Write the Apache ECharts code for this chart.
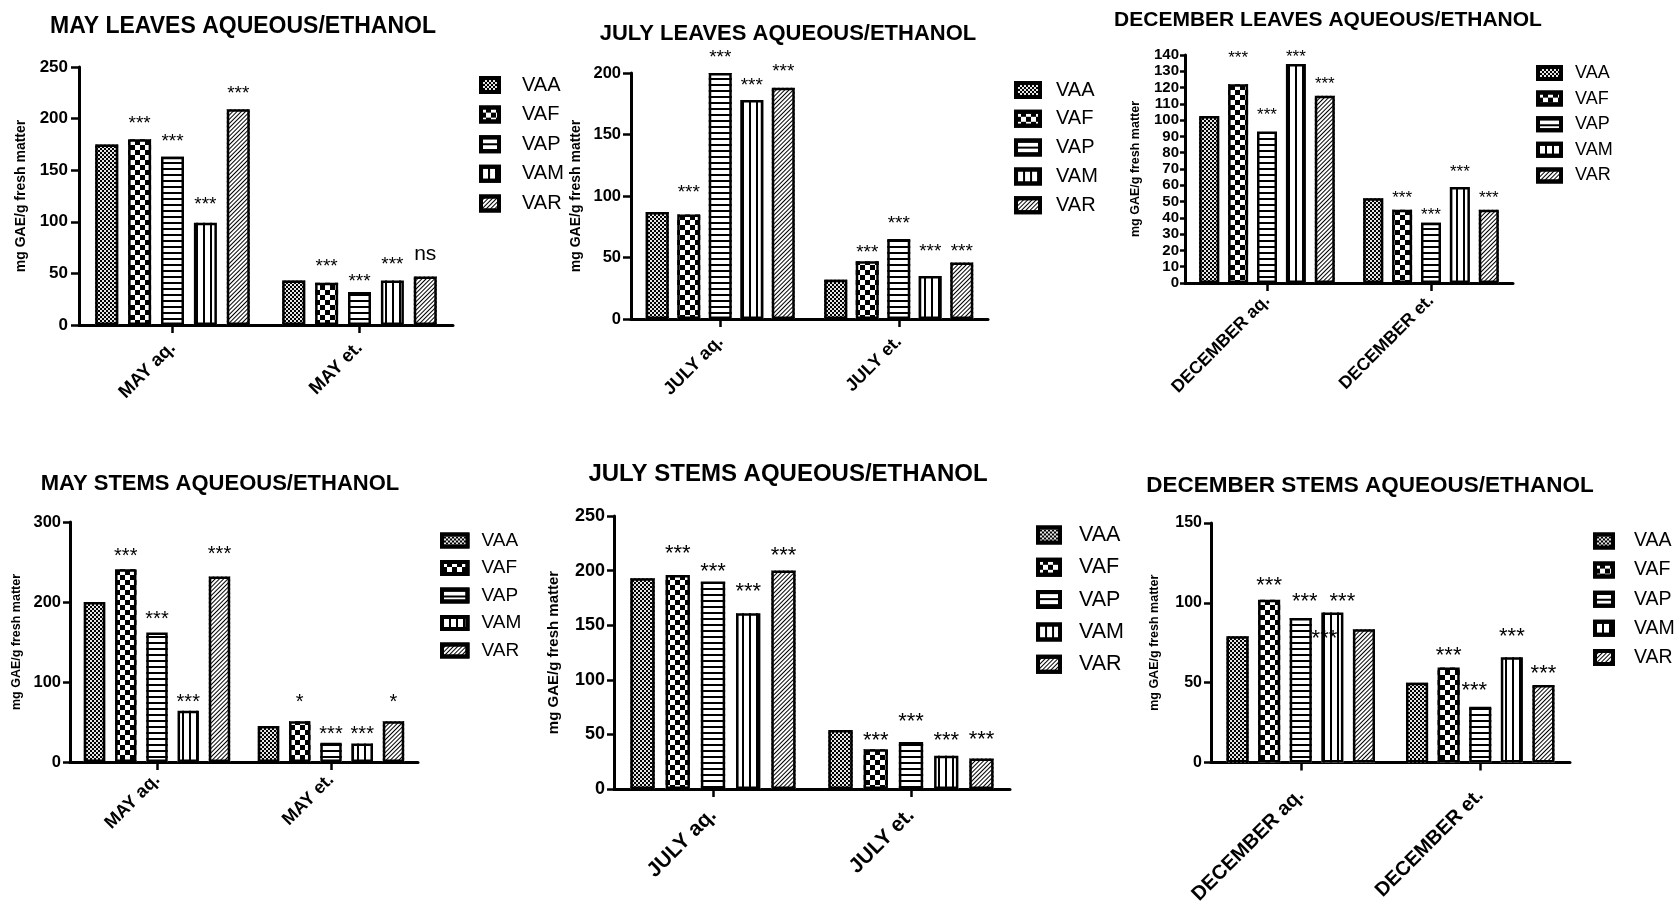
<!DOCTYPE html>
<html><head><meta charset="utf-8">
<script src="https://cdn.jsdelivr.net/npm/echarts@6/dist/echarts.min.js"></script>
<style>html,body{margin:0;padding:0;background:#fff;}#c{width:1675px;height:907px;}</style>
</head><body><div id="c"></div>
<script>
// ---------- DATA ----------
const seriesNames = ['VAA', 'VAF', 'VAP', 'VAM', 'VAR'];
const mayCategories = ['MAY aq.', 'MAY et.'];
const julyCategories = ['JULY aq.', 'JULY et.'];
const decemberCategories = ['DECEMBER aq.', 'DECEMBER et.'];

// values per series (VAA, VAF, VAP, VAM, VAR), each [aq., et.]
const mayLeavesValues = [[175, 43], [180, 41], [163, 32], [99, 43], [209, 47]];
const mayLeavesMarks = [['', ''], ['***', '***'], ['***', '***'], ['***', '***'], ['***', 'ns']];
const mayLeavesTicks = [0, 50, 100, 150, 200, 250];

const julyLeavesValues = [[87, 32], [85, 47], [200, 65], [178, 35], [188, 46]];
const julyLeavesMarks = [['', ''], ['***', '***'], ['***', '***'], ['***', '***'], ['***', '***']];
const julyLeavesTicks = [0, 50, 100, 150, 200];

const decemberLeavesValues = [[102.5, 52], [122, 45], [93, 37], [134.5, 59], [115, 45]];
const decemberLeavesMarks = [['', ''], ['***', '***'], ['***', '***'], ['***', '***'], ['***', '***']];
const decemberLeavesTicks = [0, 10, 20, 30, 40, 50, 60, 70, 80, 90, 100, 110, 120, 130, 140];

const mayStemsValues = [[200, 45], [241, 51], [162, 24], [64, 23], [232, 51]];
const mayStemsMarks = [['', ''], ['***', '*'], ['***', '***'], ['***', '***'], ['***', '*']];
const mayStemsTicks = [0, 100, 200, 300];

const julyStemsValues = [[193, 54], [196, 36.5], [190, 43], [161, 30.5], [200, 28]];
const julyStemsMarks = [['', ''], ['***', '***'], ['***', '***'], ['***', '***'], ['***', '***']];
const julyStemsTicks = [0, 50, 100, 150, 200, 250];

const decemberStemsValues = [[79, 50], [102, 59.5], [90.5, 35], [94, 66], [83.5, 48.5]];
const decemberStemsMarks = [['', ''], ['***', '***'], ['***', '***'], ['***', '***'], ['***', '***']];
const decemberStemsTicks = [0, 50, 100, 150];

const yAxisName = 'mg GAE/g fresh matter';

const panels = [
  { title: 'MAY LEAVES AQUEOUS/ETHANOL', cats: mayCategories, values: mayLeavesValues, marks: mayLeavesMarks, ticks: mayLeavesTicks },
  { title: 'JULY LEAVES AQUEOUS/ETHANOL', cats: julyCategories, values: julyLeavesValues, marks: julyLeavesMarks, ticks: julyLeavesTicks },
  { title: 'DECEMBER LEAVES AQUEOUS/ETHANOL', cats: decemberCategories, values: decemberLeavesValues, marks: decemberLeavesMarks, ticks: decemberLeavesTicks },
  { title: 'MAY STEMS AQUEOUS/ETHANOL', cats: mayCategories, values: mayStemsValues, marks: mayStemsMarks, ticks: mayStemsTicks },
  { title: 'JULY STEMS AQUEOUS/ETHANOL', cats: julyCategories, values: julyStemsValues, marks: julyStemsMarks, ticks: julyStemsTicks },
  { title: 'DECEMBER STEMS AQUEOUS/ETHANOL', cats: decemberCategories, values: decemberStemsValues, marks: decemberStemsMarks, ticks: decemberStemsTicks }
];

// ---------- LAYOUT / STYLE ----------
const FONT = '"Liberation Sans", Arial, Helvetica, sans-serif';
// lo: label position tweaks [series, category, dx, dy]
const layouts = [
  { grid: { left: 79, top: 67, width: 374, height: 258 }, barW: 23, barGap: '43%', tx: 243, ty: 15, ts: 23, nameGap: 51, nameSize: 14, tickSize: 17, tickLen: 8, tickMargin: 11, catSize: 18.5, catMargin: 20,
    lg: { left: 479, top: 75, iw: 18, ih: 14, gap: 9.6, pad: 18, size: 20 }, star: 19, dist: 6,
    lo: [[3, 0, 0, -3], [2, 1, 0, 5]] },
  { grid: { left: 631, top: 73, width: 357, height: 246 }, barW: 23, barGap: '37%', tx: 788, ty: 23, ts: 22, nameGap: 48, nameSize: 14, tickSize: 16.5, tickLen: 8, tickMargin: 10, catSize: 18, catMargin: 20,
    lg: { left: 1014, top: 80, iw: 24, ih: 14, gap: 8.8, pad: 11, size: 20 }, star: 19, dist: 6,
    lo: [[1, 0, 0, -6.6], [3, 0, 0, 1.7], [1, 1, 0, 6.7], [3, 1, 0, -8.3], [4, 1, 0, 4.7]] },
  { grid: { left: 1185, top: 55, width: 328, height: 228 }, barW: 20, barGap: '44.5%', tx: 1328, ty: 10, ts: 21, nameGap: 43, nameSize: 12.5, tickSize: 15, tickLen: 5, tickMargin: 6, catSize: 17.5, catMargin: 15,
    lg: { left: 1536, top: 64, iw: 23, ih: 12, gap: 7.6, pad: 9, size: 18 }, star: 17, dist: 3,
    lo: [[1, 0, 0, -15], [2, 0, 0, -5], [3, 0, 0, 5], [2, 1, 0, 4], [3, 1, 0, -3.3]] },
  { grid: { left: 70, top: 522, width: 348, height: 240 }, barW: 21.4, barGap: '46%', tx: 220, ty: 473, ts: 22, nameGap: 47, nameSize: 12.5, tickSize: 16.5, tickLen: 7, tickMargin: 9, catSize: 18, catMargin: 15,
    lg: { left: 440, top: 531, iw: 25.5, ih: 12, gap: 8.5, pad: 9, size: 19 }, star: 20, dist: 3,
    lo: [[3, 0, 0, 4.5], [4, 0, 0, -8.8], [1, 1, 0, -5.5], [2, 1, 0, 4.9], [3, 1, 0, 4.2], [4, 1, 0, -5.5]] },
  { grid: { left: 614, top: 516, width: 396, height: 273 }, barW: 24.3, barGap: '45%', tx: 788, ty: 462, ts: 24, nameGap: 53, nameSize: 15, tickSize: 18, tickLen: 7, tickMargin: 9, catSize: 21, catMargin: 23,
    lg: { left: 1036, top: 524, iw: 22, ih: 15, gap: 10.3, pad: 14, size: 21.5 }, star: 22, dist: 4,
    lo: [[1, 0, 0, -6], [2, 0, 0, 5.3], [3, 0, 0, -6.4], [1, 1, 0, 6.3], [2, 1, 0, -4.7], [4, 1, 0, -3.1]] },
  { grid: { left: 1211, top: 523, width: 359, height: 249 }, barW: 22.1, barGap: '43%', tx: 1370, ty: 474, ts: 22.5, nameGap: 50, nameSize: 12.5, tickSize: 16, tickLen: 7, tickMargin: 9, catSize: 20, catMargin: 30,
    lg: { left: 1593, top: 531, iw: 18, ih: 13, gap: 9.1, pad: 16, size: 19.5 }, star: 22, dist: 3,
    crossTicks: true,
    lo: [[2, 0, 4, -2.4], [3, 0, 10, 3.3], [4, 0, -39.5, 23.9], [1, 1, 0, 2.6], [2, 1, -6, -2.1], [3, 1, 0, -5.7], [4, 1, 0, 3.3]] }
];

const seriesStyles = [
  { color: '#000', decal: { symbol: 'rect', color: '#fff', dashArrayX: [[2, 2], [0, 2, 2, 0]], dashArrayY: [2, 0], symbolSize: 0.9 } },
  { color: '#fff', decal: { symbol: 'rect', color: '#000', dashArrayX: [[5, 5], [0, 5, 5, 0]], dashArrayY: [5, 0], symbolSize: 1 } },
  { color: '#fff', decal: { symbol: 'rect', color: '#000', dashArrayX: [5, 0], dashArrayY: [1.3, 3.7], symbolSize: 1 } },
  { color: '#fff', decal: { symbol: 'rect', color: '#000', dashArrayX: [1.3, 4.7], dashArrayY: [5, 0], symbolSize: 1 } },
  { color: '#fff', decal: { symbol: 'rect', color: '#000', dashArrayX: [5, 0], dashArrayY: [1, 1.6], rotation: -Math.PI / 4, symbolSize: 1 } }
];

// ---------- BUILD OPTION ----------
const option = { animation: false, backgroundColor: '#fff', title: [], grid: [], xAxis: [], yAxis: [], legend: [], series: [] };
panels.forEach((p, pi) => {
  const L = layouts[pi];
  option.title.push({ text: p.title, left: L.tx, top: L.ty, textAlign: 'center', padding: 0,
    textStyle: { fontFamily: FONT, fontWeight: 'bold', fontSize: L.ts, color: '#000' } });
  option.grid.push(Object.assign({ containLabel: false }, L.grid));
  const mainX = option.xAxis.length;
  option.xAxis.push({ type: 'category', gridIndex: pi, data: p.cats,
    axisLine: { show: true, lineStyle: { color: '#000', width: 3 } },
    axisTick: { show: true, alignWithLabel: true, length: 8, lineStyle: { color: '#000', width: 2.5 } },
    axisLabel: { rotate: 45, margin: L.catMargin, fontFamily: FONT, fontWeight: 'bold', fontSize: L.catSize, color: '#000', interval: 0 },
    splitLine: { show: false } });
  const outlineX = option.xAxis.length;
  option.xAxis.push({ type: 'category', gridIndex: pi, data: p.cats, show: false });
  if (L.crossTicks) {
    option.xAxis.push({ type: 'category', gridIndex: pi, data: p.cats, position: 'bottom',
      axisLine: { show: false }, axisLabel: { show: false }, splitLine: { show: false },
      axisTick: { show: true, inside: true, alignWithLabel: true, length: 9, lineStyle: { color: '#000', width: 2.5 } } });
  }
  const t = p.ticks;
  option.yAxis.push({ type: 'value', gridIndex: pi, min: t[0], max: t[t.length - 1], interval: t[1] - t[0],
    name: yAxisName, nameLocation: 'middle', nameGap: L.nameGap,
    nameTextStyle: { fontFamily: FONT, fontWeight: 'bold', fontSize: L.nameSize, color: '#000' },
    axisLine: { show: true, lineStyle: { color: '#000', width: 3 } },
    axisTick: { show: true, length: L.tickLen, lineStyle: { color: '#000', width: 2.5 } },
    axisLabel: { margin: L.tickMargin, fontFamily: FONT, fontWeight: 'bold', fontSize: L.tickSize, color: '#000' },
    splitLine: { show: false } });
  option.legend.push({ orient: 'vertical', left: L.lg.left, top: L.lg.top, padding: 0, icon: 'rect',
    itemWidth: L.lg.iw, itemHeight: L.lg.ih, itemGap: L.lg.gap, data: seriesNames, selectedMode: false,
    itemStyle: { borderColor: '#000', borderWidth: 4 },
    textStyle: { fontFamily: FONT, fontSize: L.lg.size, color: '#000', padding: [0, 0, 0, L.lg.pad] } });
  seriesNames.forEach((name, si) => {
    const st = seriesStyles[si];
    option.series.push({ type: 'bar', name, xAxisIndex: mainX, yAxisIndex: pi, barWidth: L.barW, barGap: L.barGap,
      itemStyle: { color: st.color, decal: st.decal },
      emphasis: { disabled: true }, z: 2,
      data: p.values[si].map((v, ci) => {
        const mark = p.marks[si][ci];
        const isNs = mark === 'ns';
        const lab = { show: mark !== '', position: 'top', formatter: mark, distance: isNs ? 12 : L.dist,
          fontFamily: FONT, fontSize: isNs ? 21 : L.star, color: '#000' };
        (L.lo || []).forEach(o => { if (o[0] === si && o[1] === ci) lab.offset = [o[2], o[3]]; });
        return { value: v, label: lab };
      }) });
  });
  // black outlines drawn over the patterns
  seriesNames.forEach((name, si) => {
    option.series.push({ type: 'bar', name: name + ' outline', xAxisIndex: outlineX, yAxisIndex: pi,
      barWidth: L.barW, barGap: L.barGap, silent: true, z: 3,
      itemStyle: { color: 'rgba(0,0,0,0)', borderColor: '#000', borderWidth: 2.5 },
      label: { show: false }, emphasis: { disabled: true },
      data: p.values[si] });
  });
});

const chart = echarts.init(document.getElementById('c'), null, { renderer: 'canvas' });
chart.setOption(option);
</script></body></html>
